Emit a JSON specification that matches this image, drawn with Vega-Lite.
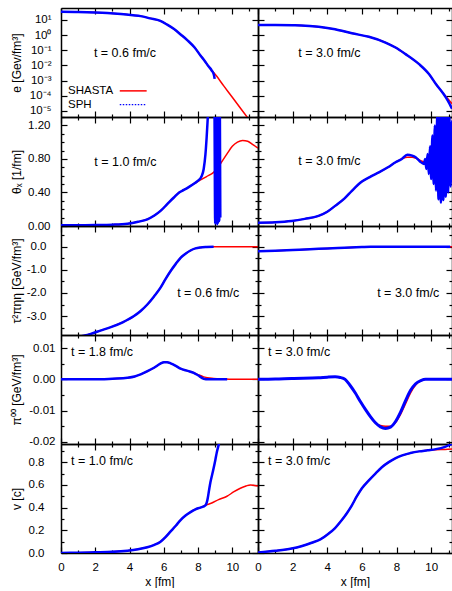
{
"$schema": "https://vega.github.io/schema/vega-lite/v6.json",
"background": "white",
"padding": {"left": 10, "top": 7, "right": 0, "bottom": 0},
"columns": 2, "spacing": 0, "bounds": "flush",
"datasets": {"d": [
{"panel":"e1","series":"SHASTA","x":0,"y":34},{"panel":"e1","series":"SHASTA","x":1,"y":33},{"panel":"e1","series":"SHASTA","x":2,"y":30.5},{"panel":"e1","series":"SHASTA","x":2.7,"y":28},{"panel":"e1","series":"SHASTA","x":3.5,"y":24},{"panel":"e1","series":"SHASTA","x":4.2,"y":20},{"panel":"e1","series":"SHASTA","x":4.65,"y":17.5},{"panel":"e1","series":"SHASTA","x":5.2,"y":12.5},{"panel":"e1","series":"SHASTA","x":5.8,"y":8.5},{"panel":"e1","series":"SHASTA","x":6.2,"y":4.8},{"panel":"e1","series":"SHASTA","x":6.6,"y":2.45},{"panel":"e1","series":"SHASTA","x":7.0,"y":1.05},{"panel":"e1","series":"SHASTA","x":7.4,"y":0.43},{"panel":"e1","series":"SHASTA","x":7.8,"y":0.15},{"panel":"e1","series":"SHASTA","x":8.14,"y":0.045},{"panel":"e1","series":"SHASTA","x":8.4,"y":0.019},{"panel":"e1","series":"SHASTA","x":8.6,"y":0.009},{"panel":"e1","series":"SHASTA","x":8.8,"y":0.0046},{"panel":"e1","series":"SHASTA","x":8.95,"y":0.003},{"panel":"e1","series":"SHASTA","x":9.5,"y":4.5e-4},{"panel":"e1","series":"SHASTA","x":10,"y":7.9e-5},{"panel":"e1","series":"SHASTA","x":10.5,"y":1.4e-5},{"panel":"e1","series":"SHASTA","x":11,"y":2.5e-6},{"panel":"e1","series":"SHASTA","x":11.5,"y":4.5e-7},
{"panel":"e1","series":"SPH","x":0,"y":34},{"panel":"e1","series":"SPH","x":1,"y":33},{"panel":"e1","series":"SPH","x":2,"y":30.5},{"panel":"e1","series":"SPH","x":2.7,"y":28},{"panel":"e1","series":"SPH","x":3.5,"y":24},{"panel":"e1","series":"SPH","x":4.2,"y":20},{"panel":"e1","series":"SPH","x":4.65,"y":17.5},{"panel":"e1","series":"SPH","x":5.2,"y":12.5},{"panel":"e1","series":"SPH","x":5.8,"y":8.5},{"panel":"e1","series":"SPH","x":6.2,"y":4.8},{"panel":"e1","series":"SPH","x":6.6,"y":2.45},{"panel":"e1","series":"SPH","x":7.0,"y":1.05},{"panel":"e1","series":"SPH","x":7.4,"y":0.43},{"panel":"e1","series":"SPH","x":7.8,"y":0.15},{"panel":"e1","series":"SPH","x":8.14,"y":0.045},{"panel":"e1","series":"SPH","x":8.4,"y":0.019},{"panel":"e1","series":"SPH","x":8.6,"y":0.009},{"panel":"e1","series":"SPH","x":8.8,"y":0.0046},{"panel":"e1","series":"SPH","x":8.92,"y":0.0025},{"panel":"e1","series":"SPH","x":8.97,"y":0.0013},
{"panel":"e2","series":"SHASTA","x":0,"y":4.5},{"panel":"e2","series":"SHASTA","x":1,"y":4.5},{"panel":"e2","series":"SHASTA","x":2,"y":4.4},{"panel":"e2","series":"SHASTA","x":2.5,"y":4.3},{"panel":"e2","series":"SHASTA","x":3.5,"y":3.5},{"panel":"e2","series":"SHASTA","x":4.45,"y":2.4},{"panel":"e2","series":"SHASTA","x":5.42,"y":1.3},{"panel":"e2","series":"SHASTA","x":6.4,"y":0.76},{"panel":"e2","series":"SHASTA","x":7.36,"y":0.32},{"panel":"e2","series":"SHASTA","x":7.94,"y":0.15},{"panel":"e2","series":"SHASTA","x":8.52,"y":0.055},{"panel":"e2","series":"SHASTA","x":9.3,"y":0.012},{"panel":"e2","series":"SHASTA","x":9.88,"y":0.0026},{"panel":"e2","series":"SHASTA","x":10.27,"y":5.9e-4},{"panel":"e2","series":"SHASTA","x":10.66,"y":1.6e-4},{"panel":"e2","series":"SHASTA","x":10.95,"y":6.5e-5},{"panel":"e2","series":"SHASTA","x":11.2,"y":3e-5},
{"panel":"e2","series":"SPH","x":0,"y":4.5},{"panel":"e2","series":"SPH","x":1,"y":4.5},{"panel":"e2","series":"SPH","x":2,"y":4.4},{"panel":"e2","series":"SPH","x":2.5,"y":4.3},{"panel":"e2","series":"SPH","x":3.5,"y":3.5},{"panel":"e2","series":"SPH","x":4.45,"y":2.4},{"panel":"e2","series":"SPH","x":5.42,"y":1.3},{"panel":"e2","series":"SPH","x":6.4,"y":0.76},{"panel":"e2","series":"SPH","x":7.36,"y":0.32},{"panel":"e2","series":"SPH","x":7.94,"y":0.15},{"panel":"e2","series":"SPH","x":8.52,"y":0.055},{"panel":"e2","series":"SPH","x":9.3,"y":0.012},{"panel":"e2","series":"SPH","x":9.88,"y":0.0026},{"panel":"e2","series":"SPH","x":10.27,"y":5.9e-4},{"panel":"e2","series":"SPH","x":10.66,"y":1.6e-4},{"panel":"e2","series":"SPH","x":10.95,"y":5e-5},{"panel":"e2","series":"SPH","x":11.2,"y":1.4e-5},
{"panel":"th1","series":"SHASTA","x":0,"y":0.01},{"panel":"th1","series":"SHASTA","x":1,"y":0.01},{"panel":"th1","series":"SHASTA","x":2,"y":0.012},{"panel":"th1","series":"SHASTA","x":3,"y":0.016},{"panel":"th1","series":"SHASTA","x":3.88,"y":0.027},{"panel":"th1","series":"SHASTA","x":4.5,"y":0.05},{"panel":"th1","series":"SHASTA","x":5.04,"y":0.08},{"panel":"th1","series":"SHASTA","x":5.45,"y":0.125},{"panel":"th1","series":"SHASTA","x":5.81,"y":0.18},{"panel":"th1","series":"SHASTA","x":6.2,"y":0.26},{"panel":"th1","series":"SHASTA","x":6.59,"y":0.34},{"panel":"th1","series":"SHASTA","x":6.9,"y":0.4},{"panel":"th1","series":"SHASTA","x":7.17,"y":0.43},{"panel":"th1","series":"SHASTA","x":7.5,"y":0.47},{"panel":"th1","series":"SHASTA","x":7.8,"y":0.51},{"panel":"th1","series":"SHASTA","x":8.14,"y":0.55},{"panel":"th1","series":"SHASTA","x":8.5,"y":0.59},{"panel":"th1","series":"SHASTA","x":8.91,"y":0.64},{"panel":"th1","series":"SHASTA","x":9.3,"y":0.74},{"panel":"th1","series":"SHASTA","x":9.69,"y":0.86},{"panel":"th1","series":"SHASTA","x":10,"y":0.95},{"panel":"th1","series":"SHASTA","x":10.3,"y":1.0},{"panel":"th1","series":"SHASTA","x":10.6,"y":1.02},{"panel":"th1","series":"SHASTA","x":10.9,"y":1.01},{"panel":"th1","series":"SHASTA","x":11.2,"y":0.97},{"panel":"th1","series":"SHASTA","x":11.5,"y":0.93},
{"panel":"th1","series":"SPH","x":0,"y":0.01},{"panel":"th1","series":"SPH","x":1,"y":0.01},{"panel":"th1","series":"SPH","x":2,"y":0.012},{"panel":"th1","series":"SPH","x":3,"y":0.016},{"panel":"th1","series":"SPH","x":3.88,"y":0.027},{"panel":"th1","series":"SPH","x":4.5,"y":0.05},{"panel":"th1","series":"SPH","x":5.04,"y":0.08},{"panel":"th1","series":"SPH","x":5.45,"y":0.125},{"panel":"th1","series":"SPH","x":5.81,"y":0.18},{"panel":"th1","series":"SPH","x":6.2,"y":0.26},{"panel":"th1","series":"SPH","x":6.59,"y":0.34},{"panel":"th1","series":"SPH","x":6.9,"y":0.4},{"panel":"th1","series":"SPH","x":7.17,"y":0.43},{"panel":"th1","series":"SPH","x":7.5,"y":0.47},{"panel":"th1","series":"SPH","x":7.8,"y":0.51},{"panel":"th1","series":"SPH","x":8.0,"y":0.54},{"panel":"th1","series":"SPH","x":8.2,"y":0.59},{"panel":"th1","series":"SPH","x":8.33,"y":0.68},{"panel":"th1","series":"SPH","x":8.43,"y":0.85},{"panel":"th1","series":"SPH","x":8.5,"y":1.05},{"panel":"th1","series":"SPH","x":8.57,"y":1.3},{"panel":"th1","series":"SPH","x":8.65,"y":1.6},{"panel":"th1","series":"SPH","x":8.95,"y":1.6},{"panel":"th1","series":"SPH","x":9.0,"y":0.03},{"panel":"th1","series":"SPH","x":9.03,"y":1.6},{"panel":"th1","series":"SPH","x":9.06,"y":0.05},{"panel":"th1","series":"SPH","x":9.09,"y":1.6},{"panel":"th1","series":"SPH","x":9.12,"y":0.02},{"panel":"th1","series":"SPH","x":9.15,"y":1.6},{"panel":"th1","series":"SPH","x":9.18,"y":0.04},{"panel":"th1","series":"SPH","x":9.21,"y":1.6},{"panel":"th1","series":"SPH","x":9.24,"y":0.06},{"panel":"th1","series":"SPH","x":9.27,"y":1.6},{"panel":"th1","series":"SPH","x":9.3,"y":0.1},
{"panel":"th2","series":"SHASTA","x":0,"y":0.04},{"panel":"th2","series":"SHASTA","x":1,"y":0.045},{"panel":"th2","series":"SHASTA","x":1.94,"y":0.06},{"panel":"th2","series":"SHASTA","x":2.7,"y":0.085},{"panel":"th2","series":"SHASTA","x":3.49,"y":0.12},{"panel":"th2","series":"SHASTA","x":4.0,"y":0.17},{"panel":"th2","series":"SHASTA","x":4.45,"y":0.24},{"panel":"th2","series":"SHASTA","x":5.0,"y":0.33},{"panel":"th2","series":"SHASTA","x":5.42,"y":0.42},{"panel":"th2","series":"SHASTA","x":6.0,"y":0.53},{"panel":"th2","series":"SHASTA","x":6.5,"y":0.59},{"panel":"th2","series":"SHASTA","x":6.98,"y":0.64},{"panel":"th2","series":"SHASTA","x":7.5,"y":0.7},{"panel":"th2","series":"SHASTA","x":7.94,"y":0.76},{"panel":"th2","series":"SHASTA","x":8.3,"y":0.8},{"panel":"th2","series":"SHASTA","x":8.62,"y":0.82},{"panel":"th2","series":"SHASTA","x":8.9,"y":0.82},{"panel":"th2","series":"SHASTA","x":9.1,"y":0.81},{"panel":"th2","series":"SHASTA","x":9.4,"y":0.78},{"panel":"th2","series":"SHASTA","x":9.7,"y":0.76},{"panel":"th2","series":"SHASTA","x":10,"y":0.77},{"panel":"th2","series":"SHASTA","x":10.5,"y":0.75},{"panel":"th2","series":"SHASTA","x":11,"y":0.71},{"panel":"th2","series":"SHASTA","x":11.2,"y":0.7},
{"panel":"th2","series":"SPH","x":0,"y":0.04},{"panel":"th2","series":"SPH","x":1,"y":0.045},{"panel":"th2","series":"SPH","x":1.94,"y":0.06},{"panel":"th2","series":"SPH","x":2.7,"y":0.085},{"panel":"th2","series":"SPH","x":3.49,"y":0.12},{"panel":"th2","series":"SPH","x":4.0,"y":0.17},{"panel":"th2","series":"SPH","x":4.45,"y":0.24},{"panel":"th2","series":"SPH","x":5.0,"y":0.33},{"panel":"th2","series":"SPH","x":5.42,"y":0.42},{"panel":"th2","series":"SPH","x":6.0,"y":0.53},{"panel":"th2","series":"SPH","x":6.5,"y":0.59},{"panel":"th2","series":"SPH","x":6.98,"y":0.64},{"panel":"th2","series":"SPH","x":7.5,"y":0.7},{"panel":"th2","series":"SPH","x":7.94,"y":0.76},{"panel":"th2","series":"SPH","x":8.3,"y":0.8},{"panel":"th2","series":"SPH","x":8.62,"y":0.85},{"panel":"th2","series":"SPH","x":8.9,"y":0.84},{"panel":"th2","series":"SPH","x":9.1,"y":0.82},{"panel":"th2","series":"SPH","x":9.35,"y":0.77},{"panel":"th2","series":"SPH","x":9.58,"y":0.74},{"panel":"th2","series":"SPH","x":9.65,"y":0.8},{"panel":"th2","series":"SPH","x":9.72,"y":0.68},{"panel":"th2","series":"SPH","x":9.79,"y":0.86},{"panel":"th2","series":"SPH","x":9.86,"y":0.62},{"panel":"th2","series":"SPH","x":9.93,"y":0.95},{"panel":"th2","series":"SPH","x":10.0,"y":0.56},{"panel":"th2","series":"SPH","x":10.07,"y":1.08},{"panel":"th2","series":"SPH","x":10.14,"y":0.5},{"panel":"th2","series":"SPH","x":10.21,"y":1.2},{"panel":"th2","series":"SPH","x":10.28,"y":0.42},{"panel":"th2","series":"SPH","x":10.35,"y":1.35},{"panel":"th2","series":"SPH","x":10.42,"y":0.32},{"panel":"th2","series":"SPH","x":10.49,"y":1.35},{"panel":"th2","series":"SPH","x":10.56,"y":0.28},{"panel":"th2","series":"SPH","x":10.63,"y":1.35},{"panel":"th2","series":"SPH","x":10.7,"y":0.31},{"panel":"th2","series":"SPH","x":10.77,"y":1.35},{"panel":"th2","series":"SPH","x":10.84,"y":0.35},{"panel":"th2","series":"SPH","x":10.91,"y":1.35},{"panel":"th2","series":"SPH","x":10.98,"y":0.4},{"panel":"th2","series":"SPH","x":11.05,"y":1.32},{"panel":"th2","series":"SPH","x":11.12,"y":0.47},{"panel":"th2","series":"SPH","x":11.19,"y":1.25},{"panel":"th2","series":"SPH","x":11.25,"y":0.55},
{"panel":"tau1","series":"SHASTA","x":0,"y":-4.15},{"panel":"tau1","series":"SHASTA","x":0.8,"y":-3.95},{"panel":"tau1","series":"SHASTA","x":1.74,"y":-3.77},{"panel":"tau1","series":"SHASTA","x":2.3,"y":-3.63},{"panel":"tau1","series":"SHASTA","x":2.91,"y":-3.48},{"panel":"tau1","series":"SHASTA","x":3.6,"y":-3.27},{"panel":"tau1","series":"SHASTA","x":4.26,"y":-3.0},{"panel":"tau1","series":"SHASTA","x":4.65,"y":-2.78},{"panel":"tau1","series":"SHASTA","x":5.04,"y":-2.5},{"panel":"tau1","series":"SHASTA","x":5.43,"y":-2.15},{"panel":"tau1","series":"SHASTA","x":5.81,"y":-1.77},{"panel":"tau1","series":"SHASTA","x":6.1,"y":-1.4},{"panel":"tau1","series":"SHASTA","x":6.4,"y":-1.05},{"panel":"tau1","series":"SHASTA","x":6.7,"y":-0.74},{"panel":"tau1","series":"SHASTA","x":6.98,"y":-0.48},{"panel":"tau1","series":"SHASTA","x":7.27,"y":-0.3},{"panel":"tau1","series":"SHASTA","x":7.56,"y":-0.16},{"panel":"tau1","series":"SHASTA","x":7.85,"y":-0.07},{"panel":"tau1","series":"SHASTA","x":8.14,"y":-0.03},{"panel":"tau1","series":"SHASTA","x":8.5,"y":-0.01},{"panel":"tau1","series":"SHASTA","x":8.91,"y":0},{"panel":"tau1","series":"SHASTA","x":9.5,"y":0},{"panel":"tau1","series":"SHASTA","x":10.5,"y":0},{"panel":"tau1","series":"SHASTA","x":11.5,"y":0},
{"panel":"tau1","series":"SPH","x":0,"y":-4.15},{"panel":"tau1","series":"SPH","x":0.8,"y":-3.95},{"panel":"tau1","series":"SPH","x":1.74,"y":-3.77},{"panel":"tau1","series":"SPH","x":2.3,"y":-3.63},{"panel":"tau1","series":"SPH","x":2.91,"y":-3.48},{"panel":"tau1","series":"SPH","x":3.6,"y":-3.27},{"panel":"tau1","series":"SPH","x":4.26,"y":-3.0},{"panel":"tau1","series":"SPH","x":4.65,"y":-2.78},{"panel":"tau1","series":"SPH","x":5.04,"y":-2.5},{"panel":"tau1","series":"SPH","x":5.43,"y":-2.15},{"panel":"tau1","series":"SPH","x":5.81,"y":-1.77},{"panel":"tau1","series":"SPH","x":6.1,"y":-1.4},{"panel":"tau1","series":"SPH","x":6.4,"y":-1.05},{"panel":"tau1","series":"SPH","x":6.7,"y":-0.74},{"panel":"tau1","series":"SPH","x":6.98,"y":-0.48},{"panel":"tau1","series":"SPH","x":7.27,"y":-0.3},{"panel":"tau1","series":"SPH","x":7.56,"y":-0.16},{"panel":"tau1","series":"SPH","x":7.85,"y":-0.07},{"panel":"tau1","series":"SPH","x":8.14,"y":-0.03},{"panel":"tau1","series":"SPH","x":8.5,"y":-0.01},{"panel":"tau1","series":"SPH","x":8.91,"y":0},
{"panel":"tau2","series":"SHASTA","x":0,"y":-0.19},{"panel":"tau2","series":"SHASTA","x":1,"y":-0.17},{"panel":"tau2","series":"SHASTA","x":2,"y":-0.14},{"panel":"tau2","series":"SHASTA","x":3,"y":-0.11},{"panel":"tau2","series":"SHASTA","x":4,"y":-0.07},{"panel":"tau2","series":"SHASTA","x":5,"y":-0.04},{"panel":"tau2","series":"SHASTA","x":6,"y":-0.01},{"panel":"tau2","series":"SHASTA","x":6.5,"y":0},{"panel":"tau2","series":"SHASTA","x":8,"y":0},{"panel":"tau2","series":"SHASTA","x":10,"y":0},{"panel":"tau2","series":"SHASTA","x":11.2,"y":0},
{"panel":"tau2","series":"SPH","x":0,"y":-0.19},{"panel":"tau2","series":"SPH","x":1,"y":-0.17},{"panel":"tau2","series":"SPH","x":2,"y":-0.14},{"panel":"tau2","series":"SPH","x":3,"y":-0.11},{"panel":"tau2","series":"SPH","x":4,"y":-0.07},{"panel":"tau2","series":"SPH","x":5,"y":-0.04},{"panel":"tau2","series":"SPH","x":6,"y":-0.01},{"panel":"tau2","series":"SPH","x":6.5,"y":0},{"panel":"tau2","series":"SPH","x":8,"y":0},{"panel":"tau2","series":"SPH","x":10,"y":0},{"panel":"tau2","series":"SPH","x":11.1,"y":0},
{"panel":"pi1","series":"SHASTA","x":0,"y":0},{"panel":"pi1","series":"SHASTA","x":2.33,"y":0},{"panel":"pi1","series":"SHASTA","x":3.0,"y":0.0002},{"panel":"pi1","series":"SHASTA","x":3.88,"y":0.0005},{"panel":"pi1","series":"SHASTA","x":4.3,"y":0.0009},{"panel":"pi1","series":"SHASTA","x":4.65,"y":0.0016},{"panel":"pi1","series":"SHASTA","x":5.05,"y":0.0026},{"panel":"pi1","series":"SHASTA","x":5.43,"y":0.0037},{"panel":"pi1","series":"SHASTA","x":5.8,"y":0.005},{"panel":"pi1","series":"SHASTA","x":6.01,"y":0.0055},{"panel":"pi1","series":"SHASTA","x":6.2,"y":0.0055},{"panel":"pi1","series":"SHASTA","x":6.4,"y":0.0051},{"panel":"pi1","series":"SHASTA","x":6.7,"y":0.0043},{"panel":"pi1","series":"SHASTA","x":6.98,"y":0.0034},{"panel":"pi1","series":"SHASTA","x":7.4,"y":0.0027},{"panel":"pi1","series":"SHASTA","x":7.75,"y":0.0021},{"panel":"pi1","series":"SHASTA","x":8.0,"y":0.0015},{"panel":"pi1","series":"SHASTA","x":8.33,"y":0.0008},{"panel":"pi1","series":"SHASTA","x":8.91,"y":0.0003},{"panel":"pi1","series":"SHASTA","x":9.5,"y":0.0001},{"panel":"pi1","series":"SHASTA","x":10,"y":0},{"panel":"pi1","series":"SHASTA","x":11.5,"y":0},
{"panel":"pi1","series":"SPH","x":0,"y":0},{"panel":"pi1","series":"SPH","x":2.33,"y":0},{"panel":"pi1","series":"SPH","x":3.0,"y":0.0002},{"panel":"pi1","series":"SPH","x":3.88,"y":0.0005},{"panel":"pi1","series":"SPH","x":4.3,"y":0.0009},{"panel":"pi1","series":"SPH","x":4.65,"y":0.0016},{"panel":"pi1","series":"SPH","x":5.05,"y":0.0026},{"panel":"pi1","series":"SPH","x":5.43,"y":0.0037},{"panel":"pi1","series":"SPH","x":5.8,"y":0.005},{"panel":"pi1","series":"SPH","x":6.01,"y":0.0055},{"panel":"pi1","series":"SPH","x":6.2,"y":0.0055},{"panel":"pi1","series":"SPH","x":6.4,"y":0.0051},{"panel":"pi1","series":"SPH","x":6.7,"y":0.0043},{"panel":"pi1","series":"SPH","x":6.98,"y":0.0034},{"panel":"pi1","series":"SPH","x":7.4,"y":0.0027},{"panel":"pi1","series":"SPH","x":7.75,"y":0.0021},{"panel":"pi1","series":"SPH","x":8.0,"y":0.0013},{"panel":"pi1","series":"SPH","x":8.33,"y":0.0002},{"panel":"pi1","series":"SPH","x":8.6,"y":0},{"panel":"pi1","series":"SPH","x":9.7,"y":0},
{"panel":"pi2","series":"SHASTA","x":0,"y":0},{"panel":"pi2","series":"SHASTA","x":1,"y":0.0001},{"panel":"pi2","series":"SHASTA","x":1.94,"y":0.0003},{"panel":"pi2","series":"SHASTA","x":3.49,"y":0.0005},{"panel":"pi2","series":"SHASTA","x":4.0,"y":0.0007},{"panel":"pi2","series":"SHASTA","x":4.45,"y":0.0008},{"panel":"pi2","series":"SHASTA","x":4.75,"y":0.0006},{"panel":"pi2","series":"SHASTA","x":5.03,"y":0},{"panel":"pi2","series":"SHASTA","x":5.3,"y":-0.0018},{"panel":"pi2","series":"SHASTA","x":5.61,"y":-0.0043},{"panel":"pi2","series":"SHASTA","x":5.9,"y":-0.007},{"panel":"pi2","series":"SHASTA","x":6.2,"y":-0.0096},{"panel":"pi2","series":"SHASTA","x":6.5,"y":-0.012},{"panel":"pi2","series":"SHASTA","x":6.78,"y":-0.0139},{"panel":"pi2","series":"SHASTA","x":7.07,"y":-0.0148},{"panel":"pi2","series":"SHASTA","x":7.36,"y":-0.0150},{"panel":"pi2","series":"SHASTA","x":7.65,"y":-0.015},{"panel":"pi2","series":"SHASTA","x":7.94,"y":-0.0138},{"panel":"pi2","series":"SHASTA","x":8.23,"y":-0.0112},{"panel":"pi2","series":"SHASTA","x":8.52,"y":-0.0078},{"panel":"pi2","series":"SHASTA","x":8.8,"y":-0.0044},{"panel":"pi2","series":"SHASTA","x":9.1,"y":-0.0018},{"panel":"pi2","series":"SHASTA","x":9.4,"y":-0.0005},{"panel":"pi2","series":"SHASTA","x":9.68,"y":0},{"panel":"pi2","series":"SHASTA","x":11.2,"y":0},
{"panel":"pi2","series":"SPH","x":0,"y":0},{"panel":"pi2","series":"SPH","x":1,"y":0.0001},{"panel":"pi2","series":"SPH","x":1.94,"y":0.0003},{"panel":"pi2","series":"SPH","x":3.49,"y":0.0005},{"panel":"pi2","series":"SPH","x":4.0,"y":0.0007},{"panel":"pi2","series":"SPH","x":4.45,"y":0.0008},{"panel":"pi2","series":"SPH","x":4.75,"y":0.0006},{"panel":"pi2","series":"SPH","x":5.03,"y":0},{"panel":"pi2","series":"SPH","x":5.3,"y":-0.0018},{"panel":"pi2","series":"SPH","x":5.61,"y":-0.0043},{"panel":"pi2","series":"SPH","x":5.9,"y":-0.007},{"panel":"pi2","series":"SPH","x":6.2,"y":-0.0096},{"panel":"pi2","series":"SPH","x":6.5,"y":-0.012},{"panel":"pi2","series":"SPH","x":6.78,"y":-0.0139},{"panel":"pi2","series":"SPH","x":7.07,"y":-0.0152},{"panel":"pi2","series":"SPH","x":7.36,"y":-0.0157},{"panel":"pi2","series":"SPH","x":7.65,"y":-0.0153},{"panel":"pi2","series":"SPH","x":7.94,"y":-0.0135},{"panel":"pi2","series":"SPH","x":8.23,"y":-0.0105},{"panel":"pi2","series":"SPH","x":8.52,"y":-0.0068},{"panel":"pi2","series":"SPH","x":8.8,"y":-0.0036},{"panel":"pi2","series":"SPH","x":9.1,"y":-0.0014},{"panel":"pi2","series":"SPH","x":9.4,"y":-0.0004},{"panel":"pi2","series":"SPH","x":9.68,"y":0},{"panel":"pi2","series":"SPH","x":11.2,"y":0},
{"panel":"v1","series":"SHASTA","x":0,"y":0},{"panel":"v1","series":"SHASTA","x":1,"y":0.003},{"panel":"v1","series":"SHASTA","x":2,"y":0.006},{"panel":"v1","series":"SHASTA","x":3,"y":0.01},{"panel":"v1","series":"SHASTA","x":3.88,"y":0.02},{"panel":"v1","series":"SHASTA","x":4.5,"y":0.033},{"panel":"v1","series":"SHASTA","x":5.04,"y":0.05},{"panel":"v1","series":"SHASTA","x":5.45,"y":0.072},{"panel":"v1","series":"SHASTA","x":5.81,"y":0.1},{"panel":"v1","series":"SHASTA","x":6.1,"y":0.14},{"panel":"v1","series":"SHASTA","x":6.4,"y":0.19},{"panel":"v1","series":"SHASTA","x":6.7,"y":0.24},{"panel":"v1","series":"SHASTA","x":6.98,"y":0.29},{"panel":"v1","series":"SHASTA","x":7.27,"y":0.33},{"panel":"v1","series":"SHASTA","x":7.56,"y":0.36},{"panel":"v1","series":"SHASTA","x":7.85,"y":0.385},{"panel":"v1","series":"SHASTA","x":8.14,"y":0.4},{"panel":"v1","series":"SHASTA","x":8.43,"y":0.42},{"panel":"v1","series":"SHASTA","x":8.8,"y":0.44},{"panel":"v1","series":"SHASTA","x":9.2,"y":0.47},{"panel":"v1","series":"SHASTA","x":9.69,"y":0.5},{"panel":"v1","series":"SHASTA","x":10.1,"y":0.54},{"panel":"v1","series":"SHASTA","x":10.47,"y":0.57},{"panel":"v1","series":"SHASTA","x":10.8,"y":0.59},{"panel":"v1","series":"SHASTA","x":11.05,"y":0.6},{"panel":"v1","series":"SHASTA","x":11.3,"y":0.595},{"panel":"v1","series":"SHASTA","x":11.5,"y":0.59},
{"panel":"v1","series":"SPH","x":0,"y":0},{"panel":"v1","series":"SPH","x":1,"y":0.003},{"panel":"v1","series":"SPH","x":2,"y":0.006},{"panel":"v1","series":"SPH","x":3,"y":0.01},{"panel":"v1","series":"SPH","x":3.88,"y":0.02},{"panel":"v1","series":"SPH","x":4.5,"y":0.033},{"panel":"v1","series":"SPH","x":5.04,"y":0.05},{"panel":"v1","series":"SPH","x":5.45,"y":0.072},{"panel":"v1","series":"SPH","x":5.81,"y":0.1},{"panel":"v1","series":"SPH","x":6.1,"y":0.14},{"panel":"v1","series":"SPH","x":6.4,"y":0.19},{"panel":"v1","series":"SPH","x":6.7,"y":0.24},{"panel":"v1","series":"SPH","x":6.98,"y":0.29},{"panel":"v1","series":"SPH","x":7.27,"y":0.33},{"panel":"v1","series":"SPH","x":7.56,"y":0.36},{"panel":"v1","series":"SPH","x":7.85,"y":0.385},{"panel":"v1","series":"SPH","x":8.14,"y":0.4},{"panel":"v1","series":"SPH","x":8.43,"y":0.42},{"panel":"v1","series":"SPH","x":8.55,"y":0.47},{"panel":"v1","series":"SPH","x":8.65,"y":0.56},{"panel":"v1","series":"SPH","x":8.72,"y":0.62},{"panel":"v1","series":"SPH","x":8.87,"y":0.72},{"panel":"v1","series":"SPH","x":9.01,"y":0.82},{"panel":"v1","series":"SPH","x":9.1,"y":0.89},{"panel":"v1","series":"SPH","x":9.2,"y":0.95},{"panel":"v1","series":"SPH","x":9.3,"y":1.02},
{"panel":"v2","series":"SHASTA","x":0,"y":0.005},{"panel":"v2","series":"SHASTA","x":1,"y":0.02},{"panel":"v2","series":"SHASTA","x":1.94,"y":0.04},{"panel":"v2","series":"SHASTA","x":2.5,"y":0.06},{"panel":"v2","series":"SHASTA","x":3.1,"y":0.09},{"panel":"v2","series":"SHASTA","x":3.6,"y":0.12},{"panel":"v2","series":"SHASTA","x":4.07,"y":0.17},{"panel":"v2","series":"SHASTA","x":4.45,"y":0.22},{"panel":"v2","series":"SHASTA","x":4.84,"y":0.29},{"panel":"v2","series":"SHASTA","x":5.13,"y":0.35},{"panel":"v2","series":"SHASTA","x":5.42,"y":0.42},{"panel":"v2","series":"SHASTA","x":5.71,"y":0.5},{"panel":"v2","series":"SHASTA","x":6.0,"y":0.57},{"panel":"v2","series":"SHASTA","x":6.4,"y":0.64},{"panel":"v2","series":"SHASTA","x":6.78,"y":0.7},{"panel":"v2","series":"SHASTA","x":7.15,"y":0.755},{"panel":"v2","series":"SHASTA","x":7.55,"y":0.8},{"panel":"v2","series":"SHASTA","x":7.95,"y":0.835},{"panel":"v2","series":"SHASTA","x":8.33,"y":0.86},{"panel":"v2","series":"SHASTA","x":8.8,"y":0.88},{"panel":"v2","series":"SHASTA","x":9.3,"y":0.895},{"panel":"v2","series":"SHASTA","x":9.8,"y":0.905},{"panel":"v2","series":"SHASTA","x":10.27,"y":0.91},{"panel":"v2","series":"SHASTA","x":10.8,"y":0.912},{"panel":"v2","series":"SHASTA","x":11.2,"y":0.915},
{"panel":"v2","series":"SPH","x":0,"y":0.005},{"panel":"v2","series":"SPH","x":1,"y":0.02},{"panel":"v2","series":"SPH","x":1.94,"y":0.04},{"panel":"v2","series":"SPH","x":2.5,"y":0.06},{"panel":"v2","series":"SPH","x":3.1,"y":0.09},{"panel":"v2","series":"SPH","x":3.6,"y":0.12},{"panel":"v2","series":"SPH","x":4.07,"y":0.17},{"panel":"v2","series":"SPH","x":4.45,"y":0.22},{"panel":"v2","series":"SPH","x":4.84,"y":0.29},{"panel":"v2","series":"SPH","x":5.13,"y":0.35},{"panel":"v2","series":"SPH","x":5.42,"y":0.42},{"panel":"v2","series":"SPH","x":5.71,"y":0.5},{"panel":"v2","series":"SPH","x":6.0,"y":0.57},{"panel":"v2","series":"SPH","x":6.4,"y":0.64},{"panel":"v2","series":"SPH","x":6.78,"y":0.7},{"panel":"v2","series":"SPH","x":7.15,"y":0.755},{"panel":"v2","series":"SPH","x":7.55,"y":0.8},{"panel":"v2","series":"SPH","x":7.95,"y":0.835},{"panel":"v2","series":"SPH","x":8.33,"y":0.86},{"panel":"v2","series":"SPH","x":8.8,"y":0.88},{"panel":"v2","series":"SPH","x":9.3,"y":0.895},{"panel":"v2","series":"SPH","x":9.8,"y":0.905},{"panel":"v2","series":"SPH","x":10.27,"y":0.915},{"panel":"v2","series":"SPH","x":10.8,"y":0.935},{"panel":"v2","series":"SPH","x":11.2,"y":0.96}
]},
"concat": [
{"width":197,"height":109,"resolve":{"axis":{"x":"independent","y":"independent"}},"layer":[
 {"data":{"name":"d"},"transform":[{"filter":"datum.panel === 'e1' && datum.series === 'SHASTA'"}],"mark":{"type":"line","color":"#ff0000","strokeWidth":1.5,"clip":true,"interpolate":"monotone"},
  "encoding":{"x":{"field":"x","type":"quantitative","scale":{"domain":[0,11.5]},"axis":{"orient":"bottom","values":[0,1,2,3,4,5,6,7,8,9,10,11],"tickSize":{"condition":{"test":"datum.value % 2 === 0","value":-6},"value":-3},"labels":false,"title":null}},
   "y":{"field":"y","type":"quantitative","scale":{"type":"log","domain":[4e-6,60]},"axis":{"orient":"left","values":[1e-5,1e-4,1e-3,0.01,0.1,1,10],"tickSize":-6,"labelExpr":"['10⁻⁵','10⁻⁴','10⁻³','10⁻²','10⁻¹','10⁰','10¹'][round(log(datum.value)/LN10)+5]","labelPadding":16,"title":"e [Gev/fm³]","titlePadding":4,"minExtent":34,"maxExtent":34}}}},
 {"data":{"name":"d"},"transform":[{"filter":"datum.panel === 'e1' && datum.series === 'SPH'"}],"mark":{"type":"line","color":"#0000ff","strokeWidth":2.5,"clip":true,"interpolate":"monotone"},
  "encoding":{"x":{"field":"x","type":"quantitative","scale":{"domain":[0,11.5]},"axis":{"orient":"top","values":[0,1,2,3,4,5,6,7,8,9,10,11],"tickSize":{"condition":{"test":"datum.value % 2 === 0","value":-6},"value":-3},"labels":false,"title":null}},
   "y":{"field":"y","type":"quantitative","scale":{"type":"log","domain":[4e-6,60]},"axis":{"orient":"right","values":[1e-5,1e-4,1e-3,0.01,0.1,1,10],"tickSize":-6,"labels":false,"title":null}}}},
 {"data":{"values":[{}]},"mark":{"type":"text","align":"left","baseline":"middle","fontSize":12.5},"encoding":{"x":{"datum":1.92,"type":"quantitative","scale":{"domain":[0,11.5]},"axis":null},"y":{"datum":0.067,"type":"quantitative","scale":{"type":"log","domain":[4e-6,60]},"axis":null},"text":{"value":"t = 0.6 fm/c"}}},
 {"data":{"values":[{}]},"mark":{"type":"text","align":"left","baseline":"middle","fontSize":11.5},"encoding":{"x":{"datum":0.41,"type":"quantitative","scale":{"domain":[0,11.5]},"axis":null},"y":{"datum":2.1e-4,"type":"quantitative","scale":{"type":"log","domain":[4e-6,60]},"axis":null},"text":{"value":"SHASTA"}}},
 {"data":{"values":[{}]},"mark":{"type":"text","align":"left","baseline":"middle","fontSize":11.5},"encoding":{"x":{"datum":0.41,"type":"quantitative","scale":{"domain":[0,11.5]},"axis":null},"y":{"datum":2.6e-5,"type":"quantitative","scale":{"type":"log","domain":[4e-6,60]},"axis":null},"text":{"value":"SPH"}}},
 {"data":{"values":[{}]},"mark":{"type":"rule","color":"#ff0000","strokeWidth":1.5},"encoding":{"x":{"datum":3.43,"type":"quantitative","scale":{"domain":[0,11.5]},"axis":null},"x2":{"datum":5.0},"y":{"datum":2.1e-4,"type":"quantitative","scale":{"type":"log","domain":[4e-6,60]},"axis":null}}},
 {"data":{"values":[{}]},"mark":{"type":"rule","color":"#0000ff","strokeWidth":1.2,"strokeDash":[1.5,1.5]},"encoding":{"x":{"datum":3.43,"type":"quantitative","scale":{"domain":[0,11.5]},"axis":null},"x2":{"datum":5.0},"y":{"datum":2.6e-5,"type":"quantitative","scale":{"type":"log","domain":[4e-6,60]},"axis":null}}}
]},
{"width":194,"height":109,"resolve":{"axis":{"x":"independent","y":"independent"}},"layer":[
 {"data":{"name":"d"},"transform":[{"filter":"datum.panel === 'e2' && datum.series === 'SHASTA'"}],"mark":{"type":"line","color":"#ff0000","strokeWidth":1.5,"clip":true,"interpolate":"monotone"},
  "encoding":{"x":{"field":"x","type":"quantitative","scale":{"domain":[0,11.2]},"axis":{"orient":"bottom","values":[0,1,2,3,4,5,6,7,8,9,10,11],"tickSize":{"condition":{"test":"datum.value % 2 === 0","value":-6},"value":-3},"labels":false,"title":null}},
   "y":{"field":"y","type":"quantitative","scale":{"type":"log","domain":[4e-6,60]},"axis":{"orient":"left","values":[1e-5,1e-4,1e-3,0.01,0.1,1,10],"tickSize":-6,"labels":false,"title":null}}}},
 {"data":{"name":"d"},"transform":[{"filter":"datum.panel === 'e2' && datum.series === 'SPH'"}],"mark":{"type":"line","color":"#0000ff","strokeWidth":2.5,"clip":true,"interpolate":"monotone"},
  "encoding":{"x":{"field":"x","type":"quantitative","scale":{"domain":[0,11.2]},"axis":{"orient":"top","values":[0,1,2,3,4,5,6,7,8,9,10,11],"tickSize":{"condition":{"test":"datum.value % 2 === 0","value":-6},"value":-3},"labels":false,"title":null}},
   "y":{"field":"y","type":"quantitative","scale":{"type":"log","domain":[4e-6,60]},"axis":{"orient":"right","values":[1e-5,1e-4,1e-3,0.01,0.1,1,10],"tickSize":-6,"labels":false,"title":null}}}},
 {"data":{"values":[{}]},"mark":{"type":"text","align":"left","baseline":"middle","fontSize":12.5},"encoding":{"x":{"datum":2.33,"type":"quantitative","scale":{"domain":[0,11.2]},"axis":null},"y":{"datum":0.067,"type":"quantitative","scale":{"type":"log","domain":[4e-6,60]},"axis":null},"text":{"value":"t = 3.0 fm/c"}}}
]},
{"width":197,"height":109,"resolve":{"axis":{"x":"independent","y":"independent"}},"layer":[
 {"data":{"name":"d"},"transform":[{"filter":"datum.panel === 'th1' && datum.series === 'SHASTA'"}],"mark":{"type":"line","color":"#ff0000","strokeWidth":1.5,"clip":true,"interpolate":"monotone"},
  "encoding":{"x":{"field":"x","type":"quantitative","scale":{"domain":[0,11.5]},"axis":{"orient":"bottom","values":[0,1,2,3,4,5,6,7,8,9,10,11],"tickSize":{"condition":{"test":"datum.value % 2 === 0","value":-6},"value":-3},"labels":false,"title":null}},
   "y":{"field":"y","type":"quantitative","scale":{"domain":[0,1.3]},"axis":{"orient":"left","values":[0,0.1,0.2,0.3,0.4,0.5,0.6,0.7,0.8,0.9,1,1.1,1.2,1.3],"tickSize":{"condition":{"test":"indexof([0,0.4,0.8,1.2], datum.value) >= 0","value":-6},"value":-3},"labelExpr":"indexof([0,0.4,0.8,1.2], datum.value) >= 0 ? format(datum.value, '.2f') : ''","labelPadding":17,"title":"θₓ [1/fm]","titlePadding":4,"minExtent":34,"maxExtent":34}}}},
 {"data":{"name":"d"},"transform":[{"filter":"datum.panel === 'th1' && datum.series === 'SPH'"}],"mark":{"type":"line","color":"#0000ff","strokeWidth":2.5,"clip":true,"interpolate":"monotone"},
  "encoding":{"x":{"field":"x","type":"quantitative","scale":{"domain":[0,11.5]},"axis":{"orient":"top","values":[0,1,2,3,4,5,6,7,8,9,10,11],"tickSize":{"condition":{"test":"datum.value % 2 === 0","value":-6},"value":-3},"labels":false,"title":null}},
   "y":{"field":"y","type":"quantitative","scale":{"domain":[0,1.3]},"axis":{"orient":"right","values":[0,0.1,0.2,0.3,0.4,0.5,0.6,0.7,0.8,0.9,1,1.1,1.2,1.3],"tickSize":{"condition":{"test":"indexof([0,0.4,0.8,1.2], datum.value) >= 0","value":-6},"value":-3},"labels":false,"title":null}}}},
 {"data":{"values":[{}]},"mark":{"type":"text","align":"left","baseline":"middle","fontSize":12.5},"encoding":{"x":{"datum":1.94,"type":"quantitative","scale":{"domain":[0,11.5]},"axis":null},"y":{"datum":0.76,"type":"quantitative","scale":{"domain":[0,1.3]},"axis":null},"text":{"value":"t = 1.0 fm/c"}}}
]},
{"width":194,"height":109,"resolve":{"axis":{"x":"independent","y":"independent"}},"layer":[
 {"data":{"name":"d"},"transform":[{"filter":"datum.panel === 'th2' && datum.series === 'SHASTA'"}],"mark":{"type":"line","color":"#ff0000","strokeWidth":1.5,"clip":true,"interpolate":"monotone"},
  "encoding":{"x":{"field":"x","type":"quantitative","scale":{"domain":[0,11.2]},"axis":{"orient":"bottom","values":[0,1,2,3,4,5,6,7,8,9,10,11],"tickSize":{"condition":{"test":"datum.value % 2 === 0","value":-6},"value":-3},"labels":false,"title":null}},
   "y":{"field":"y","type":"quantitative","scale":{"domain":[0,1.3]},"axis":{"orient":"left","values":[0,0.1,0.2,0.3,0.4,0.5,0.6,0.7,0.8,0.9,1,1.1,1.2,1.3],"tickSize":{"condition":{"test":"indexof([0,0.4,0.8,1.2], datum.value) >= 0","value":-6},"value":-3},"labels":false,"title":null}}}},
 {"data":{"name":"d"},"transform":[{"filter":"datum.panel === 'th2' && datum.series === 'SPH'"}],"mark":{"type":"line","color":"#0000ff","strokeWidth":2.5,"clip":true,"interpolate":"monotone"},
  "encoding":{"x":{"field":"x","type":"quantitative","scale":{"domain":[0,11.2]},"axis":{"orient":"top","values":[0,1,2,3,4,5,6,7,8,9,10,11],"tickSize":{"condition":{"test":"datum.value % 2 === 0","value":-6},"value":-3},"labels":false,"title":null}},
   "y":{"field":"y","type":"quantitative","scale":{"domain":[0,1.3]},"axis":{"orient":"right","values":[0,0.1,0.2,0.3,0.4,0.5,0.6,0.7,0.8,0.9,1,1.1,1.2,1.3],"tickSize":{"condition":{"test":"indexof([0,0.4,0.8,1.2], datum.value) >= 0","value":-6},"value":-3},"labels":false,"title":null}}}},
 {"data":{"values":[{}]},"mark":{"type":"text","align":"left","baseline":"middle","fontSize":12.5},"encoding":{"x":{"datum":2.33,"type":"quantitative","scale":{"domain":[0,11.2]},"axis":null},"y":{"datum":0.77,"type":"quantitative","scale":{"domain":[0,1.3]},"axis":null},"text":{"value":"t = 3.0 fm/c"}}}
]},
{"width":197,"height":109,"resolve":{"axis":{"x":"independent","y":"independent"}},"layer":[
 {"data":{"name":"d"},"transform":[{"filter":"datum.panel === 'tau1' && datum.series === 'SHASTA'"}],"mark":{"type":"line","color":"#ff0000","strokeWidth":1.5,"clip":true,"interpolate":"monotone"},
  "encoding":{"x":{"field":"x","type":"quantitative","scale":{"domain":[0,11.5]},"axis":{"orient":"bottom","values":[0,1,2,3,4,5,6,7,8,9,10,11],"tickSize":{"condition":{"test":"datum.value % 2 === 0","value":-6},"value":-3},"labels":false,"title":null}},
   "y":{"field":"y","type":"quantitative","scale":{"domain":[-3.82,0.9]},"axis":{"orient":"left","values":[-3.5,-3,-2.5,-2,-1.5,-1,-0.5,0,0.5],"tickSize":{"condition":{"test":"datum.value % 1 === 0","value":-6},"value":-3},"labelExpr":"datum.value % 1 === 0 ? replace(format(datum.value, '.1f'), '−', '-') : ''","labelPadding":21,"title":"τ²πηη [GeV/fm³]","titlePadding":4,"minExtent":34,"maxExtent":34}}}},
 {"data":{"name":"d"},"transform":[{"filter":"datum.panel === 'tau1' && datum.series === 'SPH'"}],"mark":{"type":"line","color":"#0000ff","strokeWidth":2.5,"clip":true,"interpolate":"monotone"},
  "encoding":{"x":{"field":"x","type":"quantitative","scale":{"domain":[0,11.5]},"axis":{"orient":"top","values":[0,1,2,3,4,5,6,7,8,9,10,11],"tickSize":{"condition":{"test":"datum.value % 2 === 0","value":-6},"value":-3},"labels":false,"title":null}},
   "y":{"field":"y","type":"quantitative","scale":{"domain":[-3.82,0.9]},"axis":{"orient":"right","values":[-3.5,-3,-2.5,-2,-1.5,-1,-0.5,0,0.5],"tickSize":{"condition":{"test":"datum.value % 1 === 0","value":-6},"value":-3},"labels":false,"title":null}}}},
 {"data":{"values":[{}]},"mark":{"type":"text","align":"left","baseline":"middle","fontSize":12.5},"encoding":{"x":{"datum":6.78,"type":"quantitative","scale":{"domain":[0,11.5]},"axis":null},"y":{"datum":-1.99,"type":"quantitative","scale":{"domain":[-3.82,0.9]},"axis":null},"text":{"value":"t = 0.6 fm/c"}}}
]},
{"width":194,"height":109,"resolve":{"axis":{"x":"independent","y":"independent"}},"layer":[
 {"data":{"name":"d"},"transform":[{"filter":"datum.panel === 'tau2' && datum.series === 'SHASTA'"}],"mark":{"type":"line","color":"#ff0000","strokeWidth":1.5,"clip":true,"interpolate":"monotone"},
  "encoding":{"x":{"field":"x","type":"quantitative","scale":{"domain":[0,11.2]},"axis":{"orient":"bottom","values":[0,1,2,3,4,5,6,7,8,9,10,11],"tickSize":{"condition":{"test":"datum.value % 2 === 0","value":-6},"value":-3},"labels":false,"title":null}},
   "y":{"field":"y","type":"quantitative","scale":{"domain":[-3.82,0.9]},"axis":{"orient":"left","values":[-3.5,-3,-2.5,-2,-1.5,-1,-0.5,0,0.5],"tickSize":{"condition":{"test":"datum.value % 1 === 0","value":-6},"value":-3},"labels":false,"title":null}}}},
 {"data":{"name":"d"},"transform":[{"filter":"datum.panel === 'tau2' && datum.series === 'SPH'"}],"mark":{"type":"line","color":"#0000ff","strokeWidth":2.5,"clip":true,"interpolate":"monotone"},
  "encoding":{"x":{"field":"x","type":"quantitative","scale":{"domain":[0,11.2]},"axis":{"orient":"top","values":[0,1,2,3,4,5,6,7,8,9,10,11],"tickSize":{"condition":{"test":"datum.value % 2 === 0","value":-6},"value":-3},"labels":false,"title":null}},
   "y":{"field":"y","type":"quantitative","scale":{"domain":[-3.82,0.9]},"axis":{"orient":"right","values":[-3.5,-3,-2.5,-2,-1.5,-1,-0.5,0,0.5],"tickSize":{"condition":{"test":"datum.value % 1 === 0","value":-6},"value":-3},"labels":false,"title":null}}}},
 {"data":{"values":[{}]},"mark":{"type":"text","align":"left","baseline":"middle","fontSize":12.5},"encoding":{"x":{"datum":6.88,"type":"quantitative","scale":{"domain":[0,11.2]},"axis":null},"y":{"datum":-1.99,"type":"quantitative","scale":{"domain":[-3.82,0.9]},"axis":null},"text":{"value":"t = 3.0 fm/c"}}}
]},
{"width":197,"height":109,"resolve":{"axis":{"x":"independent","y":"independent"}},"layer":[
 {"data":{"name":"d"},"transform":[{"filter":"datum.panel === 'pi1' && datum.series === 'SHASTA'"}],"mark":{"type":"line","color":"#ff0000","strokeWidth":1.5,"clip":true,"interpolate":"monotone"},
  "encoding":{"x":{"field":"x","type":"quantitative","scale":{"domain":[0,11.5]},"axis":{"orient":"bottom","values":[0,1,2,3,4,5,6,7,8,9,10,11],"tickSize":{"condition":{"test":"datum.value % 2 === 0","value":-6},"value":-3},"labels":false,"title":null}},
   "y":{"field":"y","type":"quantitative","scale":{"domain":[-0.0207,0.0142]},"axis":{"orient":"left","values":[-0.02,-0.015,-0.01,-0.005,0,0.005,0.01],"tickSize":{"condition":{"test":"indexof([-0.02,-0.01,0,0.01], datum.value) >= 0","value":-6},"value":-3},"labelExpr":"indexof([-0.02,-0.01,0,0.01], datum.value) >= 0 ? replace(format(datum.value, '.2f'), '−', '-') : ''","labelPadding":12,"title":"π⁰⁰ [GeV/fm³]","titlePadding":4,"minExtent":34,"maxExtent":34}}}},
 {"data":{"name":"d"},"transform":[{"filter":"datum.panel === 'pi1' && datum.series === 'SPH'"}],"mark":{"type":"line","color":"#0000ff","strokeWidth":2.5,"clip":true,"interpolate":"monotone"},
  "encoding":{"x":{"field":"x","type":"quantitative","scale":{"domain":[0,11.5]},"axis":{"orient":"top","values":[0,1,2,3,4,5,6,7,8,9,10,11],"tickSize":{"condition":{"test":"datum.value % 2 === 0","value":-6},"value":-3},"labels":false,"title":null}},
   "y":{"field":"y","type":"quantitative","scale":{"domain":[-0.0207,0.0142]},"axis":{"orient":"right","values":[-0.02,-0.015,-0.01,-0.005,0,0.005,0.01],"tickSize":{"condition":{"test":"indexof([-0.02,-0.01,0,0.01], datum.value) >= 0","value":-6},"value":-3},"labels":false,"title":null}}}},
 {"data":{"values":[{}]},"mark":{"type":"text","align":"left","baseline":"middle","fontSize":12.5},"encoding":{"x":{"datum":0.58,"type":"quantitative","scale":{"domain":[0,11.5]},"axis":null},"y":{"datum":0.0088,"type":"quantitative","scale":{"domain":[-0.0207,0.0142]},"axis":null},"text":{"value":"t = 1.8 fm/c"}}}
]},
{"width":194,"height":109,"resolve":{"axis":{"x":"independent","y":"independent"}},"layer":[
 {"data":{"name":"d"},"transform":[{"filter":"datum.panel === 'pi2' && datum.series === 'SHASTA'"}],"mark":{"type":"line","color":"#ff0000","strokeWidth":1.5,"clip":true,"interpolate":"monotone"},
  "encoding":{"x":{"field":"x","type":"quantitative","scale":{"domain":[0,11.2]},"axis":{"orient":"bottom","values":[0,1,2,3,4,5,6,7,8,9,10,11],"tickSize":{"condition":{"test":"datum.value % 2 === 0","value":-6},"value":-3},"labels":false,"title":null}},
   "y":{"field":"y","type":"quantitative","scale":{"domain":[-0.0207,0.0142]},"axis":{"orient":"left","values":[-0.02,-0.015,-0.01,-0.005,0,0.005,0.01],"tickSize":{"condition":{"test":"indexof([-0.02,-0.01,0,0.01], datum.value) >= 0","value":-6},"value":-3},"labels":false,"title":null}}}},
 {"data":{"name":"d"},"transform":[{"filter":"datum.panel === 'pi2' && datum.series === 'SPH'"}],"mark":{"type":"line","color":"#0000ff","strokeWidth":3,"clip":true,"interpolate":"monotone"},
  "encoding":{"x":{"field":"x","type":"quantitative","scale":{"domain":[0,11.2]},"axis":{"orient":"top","values":[0,1,2,3,4,5,6,7,8,9,10,11],"tickSize":{"condition":{"test":"datum.value % 2 === 0","value":-6},"value":-3},"labels":false,"title":null}},
   "y":{"field":"y","type":"quantitative","scale":{"domain":[-0.0207,0.0142]},"axis":{"orient":"right","values":[-0.02,-0.015,-0.01,-0.005,0,0.005,0.01],"tickSize":{"condition":{"test":"indexof([-0.02,-0.01,0,0.01], datum.value) >= 0","value":-6},"value":-3},"labels":false,"title":null}}}},
 {"data":{"values":[{}]},"mark":{"type":"text","align":"left","baseline":"middle","fontSize":12.5},"encoding":{"x":{"datum":0.58,"type":"quantitative","scale":{"domain":[0,11.2]},"axis":null},"y":{"datum":0.0088,"type":"quantitative","scale":{"domain":[-0.0207,0.0142]},"axis":null},"text":{"value":"t = 3.0 fm/c"}}}
]},
{"width":197,"height":109,"resolve":{"axis":{"x":"independent","y":"independent"}},"layer":[
 {"data":{"name":"d"},"transform":[{"filter":"datum.panel === 'v1' && datum.series === 'SHASTA'"}],"mark":{"type":"line","color":"#ff0000","strokeWidth":1.5,"clip":true,"interpolate":"monotone"},
  "encoding":{"x":{"field":"x","type":"quantitative","scale":{"domain":[0,11.5]},"axis":{"orient":"bottom","values":[0,1,2,3,4,5,6,7,8,9,10,11],"tickSize":{"condition":{"test":"datum.value % 2 === 0","value":-6},"value":-3},"labelExpr":"datum.value % 2 === 0 ? datum.label : ''","labelPadding":14,"title":"x [fm]","titlePadding":1}},
   "y":{"field":"y","type":"quantitative","scale":{"domain":[0,0.96]},"axis":{"orient":"left","values":[0,0.1,0.2,0.3,0.4,0.5,0.6,0.7,0.8,0.9],"tickSize":{"condition":{"test":"indexof([0,0.2,0.4,0.6,0.8], datum.value) >= 0","value":-6},"value":-3},"labelExpr":"indexof([0,0.2,0.4,0.6,0.8], datum.value) >= 0 ? format(datum.value, '.1f') : ''","labelPadding":23,"title":"v [c]","titlePadding":4,"minExtent":34,"maxExtent":34}}}},
 {"data":{"name":"d"},"transform":[{"filter":"datum.panel === 'v1' && datum.series === 'SPH'"}],"mark":{"type":"line","color":"#0000ff","strokeWidth":2.5,"clip":true,"interpolate":"monotone"},
  "encoding":{"x":{"field":"x","type":"quantitative","scale":{"domain":[0,11.5]},"axis":{"orient":"top","values":[0,1,2,3,4,5,6,7,8,9,10,11],"tickSize":{"condition":{"test":"datum.value % 2 === 0","value":-6},"value":-3},"labels":false,"title":null}},
   "y":{"field":"y","type":"quantitative","scale":{"domain":[0,0.96]},"axis":{"orient":"right","values":[0,0.1,0.2,0.3,0.4,0.5,0.6,0.7,0.8,0.9],"tickSize":{"condition":{"test":"indexof([0,0.2,0.4,0.6,0.8], datum.value) >= 0","value":-6},"value":-3},"labels":false,"title":null}}}},
 {"data":{"values":[{}]},"mark":{"type":"text","align":"left","baseline":"middle","fontSize":12.5},"encoding":{"x":{"datum":0.58,"type":"quantitative","scale":{"domain":[0,11.5]},"axis":null},"y":{"datum":0.806,"type":"quantitative","scale":{"domain":[0,0.96]},"axis":null},"text":{"value":"t = 1.0 fm/c"}}}
]},
{"width":194,"height":109,"resolve":{"axis":{"x":"independent","y":"independent"}},"layer":[
 {"data":{"name":"d"},"transform":[{"filter":"datum.panel === 'v2' && datum.series === 'SHASTA'"}],"mark":{"type":"line","color":"#ff0000","strokeWidth":1.5,"clip":true,"interpolate":"monotone"},
  "encoding":{"x":{"field":"x","type":"quantitative","scale":{"domain":[0,11.2]},"axis":{"orient":"bottom","values":[0,1,2,3,4,5,6,7,8,9,10,11],"tickSize":{"condition":{"test":"datum.value % 2 === 0","value":-6},"value":-3},"labelExpr":"datum.value % 2 === 0 ? datum.label : ''","labelPadding":14,"title":"x [fm]","titlePadding":1}},
   "y":{"field":"y","type":"quantitative","scale":{"domain":[0,0.96]},"axis":{"orient":"left","values":[0,0.1,0.2,0.3,0.4,0.5,0.6,0.7,0.8,0.9],"tickSize":{"condition":{"test":"indexof([0,0.2,0.4,0.6,0.8], datum.value) >= 0","value":-6},"value":-3},"labels":false,"title":null}}}},
 {"data":{"name":"d"},"transform":[{"filter":"datum.panel === 'v2' && datum.series === 'SPH'"}],"mark":{"type":"line","color":"#0000ff","strokeWidth":2.5,"clip":true,"interpolate":"monotone"},
  "encoding":{"x":{"field":"x","type":"quantitative","scale":{"domain":[0,11.2]},"axis":{"orient":"top","values":[0,1,2,3,4,5,6,7,8,9,10,11],"tickSize":{"condition":{"test":"datum.value % 2 === 0","value":-6},"value":-3},"labels":false,"title":null}},
   "y":{"field":"y","type":"quantitative","scale":{"domain":[0,0.96]},"axis":{"orient":"right","values":[0,0.1,0.2,0.3,0.4,0.5,0.6,0.7,0.8,0.9],"tickSize":{"condition":{"test":"indexof([0,0.2,0.4,0.6,0.8], datum.value) >= 0","value":-6},"value":-3},"labels":false,"title":null}}}},
 {"data":{"values":[{}]},"mark":{"type":"text","align":"left","baseline":"middle","fontSize":12.5},"encoding":{"x":{"datum":0.58,"type":"quantitative","scale":{"domain":[0,11.2]},"axis":null},"y":{"datum":0.806,"type":"quantitative","scale":{"domain":[0,0.96]},"axis":null},"text":{"value":"t = 3.0 fm/c"}}}
]}
],
"config": {
 "font": "Liberation Sans",
 "view": {"stroke": null},
 "axis": {"domainColor":"#000000","domainWidth":1.5,"tickColor":"#000000","tickWidth":1.2,"labelColor":"#000000","titleColor":"#000000","labelFont":"Liberation Sans","titleFont":"Liberation Sans","labelFontSize":11.5,"titleFontSize":12,"titleFontWeight":"normal","grid":false,"labelFlush":false,"labelOverlap":false,"labelBound":false},
 "text": {"font":"Liberation Sans","color":"#000000"}
}
}
